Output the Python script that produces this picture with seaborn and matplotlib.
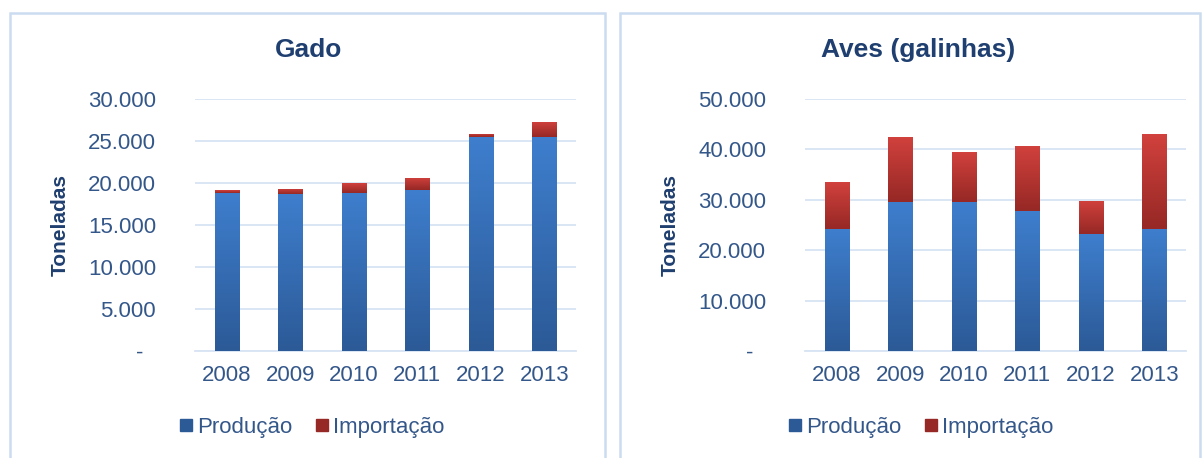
import numpy as np
import matplotlib
matplotlib.use("Agg")
import matplotlib.pyplot as plt
import seaborn as sns
from matplotlib.colors import LinearSegmentedColormap
from matplotlib.lines import Line2D
from matplotlib.patches import Rectangle
from matplotlib.ticker import FuncFormatter, MultipleLocator

# dados (toneladas)
anos = ["2008", "2009", "2010", "2011", "2012", "2013"]
gado_producao = [18850, 18690, 18850, 19170, 25430, 25430]
gado_importacao = [320, 630, 1100, 1430, 440, 1830]
aves_producao = [24300, 29600, 29600, 27700, 23200, 24300]
aves_importacao = [9200, 12900, 9900, 12900, 6600, 18700]

sns.set_theme(style="white")
plt.rcParams["font.family"] = ["Liberation Sans", "DejaVu Sans"]

AZUL_TOPO, AZUL_BASE = "#3E7ECD", "#2C5A97"
VERM_TOPO, VERM_BASE = "#D1413D", "#962825"
COR_TICK = "#34578A"
COR_TITULO = "#1F3F70"
COR_GRADE = "#D8E4F3"
COR_BORDA = "#CCDCF0"


def fmt_milhar(v, pos):
    if abs(v) < 1e-9:
        return "-  "
    return f"{int(round(v)):,}".replace(",", ".")


def gradiente(ax, patch, topo, base, z):
    x0, y0 = patch.get_x(), patch.get_y()
    w, h = patch.get_width(), patch.get_height()
    cmap = LinearSegmentedColormap.from_list("g", [base, topo])
    img = ax.imshow(np.linspace(0, 1, 64).reshape(-1, 1), cmap=cmap,
                    extent=(x0, x0 + w, y0, y0 + h), origin="lower",
                    aspect="auto", zorder=z)
    img.set_clip_path(patch)


def desenha(fig, rect, producao, importacao, titulo, ymax, passo, cx):
    ax = fig.add_axes(rect)
    total = [p + i for p, i in zip(producao, importacao)]
    sns.barplot(x=anos, y=total, color=VERM_TOPO, width=0.38, ax=ax,
                saturation=1, zorder=3)
    n = len(ax.patches)
    sns.barplot(x=anos, y=producao, color=AZUL_TOPO, width=0.38, ax=ax,
                saturation=1, zorder=4)
    for k, p in enumerate(list(ax.patches)):
        p.set_linewidth(0)
        if k < n:
            # só o segmento de importação leva o gradiente vermelho
            seg = Rectangle((p.get_x(), producao[k]), p.get_width(),
                            importacao[k], transform=ax.transData)
            ax.add_patch(seg)
            seg.set_visible(False)
            gradiente(ax, seg, VERM_TOPO, VERM_BASE, 5)
        else:
            gradiente(ax, p, AZUL_TOPO, AZUL_BASE, 5)

    ax.set_xlim(-0.5, len(anos) - 0.5)
    ax.set_ylim(0, ymax)
    ax.yaxis.set_major_locator(MultipleLocator(passo))
    ax.yaxis.set_major_formatter(FuncFormatter(fmt_milhar))
    ax.grid(axis="y", color=COR_GRADE, linewidth=1.3, zorder=0)
    ax.set_axisbelow(True)
    for s in ["top", "right", "left"]:
        ax.spines[s].set_visible(False)
    ax.spines["bottom"].set_color(COR_GRADE)
    ax.spines["bottom"].set_linewidth(1.3)
    ax.tick_params(axis="y", length=0, pad=28, labelsize=16, labelcolor=COR_TICK)
    ax.tick_params(axis="x", length=0, pad=10, labelsize=16, labelcolor=COR_TICK)
    ax.set_xlabel("")
    ax.set_ylabel("")
    ax.set_facecolor("none")

    fig.text(cx, 1 - 50 / 458, titulo, ha="center", va="center",
             fontsize=19, fontweight="bold", color=COR_TITULO)
    return ax


fig = plt.figure(figsize=(12.04, 4.58), dpi=100)
W, H = 1204, 458

# molduras dos dois gráficos
for x0, x1 in [(10, 605), (620, 1200)]:
    fig.patches.append(Rectangle((x0 / W, -0.05), (x1 - x0) / W, 1.05 - 13 / H,
                                 transform=fig.transFigure, fill=False,
                                 edgecolor=COR_BORDA, linewidth=1.8))

ax1 = desenha(fig, [195 / W, 107 / H, 381 / W, 252 / H], gado_producao,
              gado_importacao, "Gado", 30000, 5000, 309 / W)
ax2 = desenha(fig, [805 / W, 107 / H, 381 / W, 252 / H], aves_producao,
              aves_importacao, "Aves (galinhas)", 50000, 10000, 918 / W)

for ax, xl, cx in [(ax1, 60, 310), (ax2, 670, 919)]:
    fig.text(xl / W, 1 - 225 / H, "Toneladas", rotation=90, ha="center",
             va="center", fontsize=15, fontweight="bold", color=COR_TITULO)
    handles = [Line2D([], [], marker="s", linestyle="", markersize=8,
                      color=AZUL_BASE, label="Produção"),
               Line2D([], [], marker="s", linestyle="", markersize=8,
                      color=VERM_BASE, label="Importação")]
    fig.legend(handles=handles, loc="center", bbox_to_anchor=(cx / W, 1 - 427 / H),
               ncol=2, frameon=False, fontsize=16, labelcolor=COR_TICK,
               handletextpad=0.05, columnspacing=0.9, handlelength=0.9)

fig.savefig("out.png", dpi=100)
